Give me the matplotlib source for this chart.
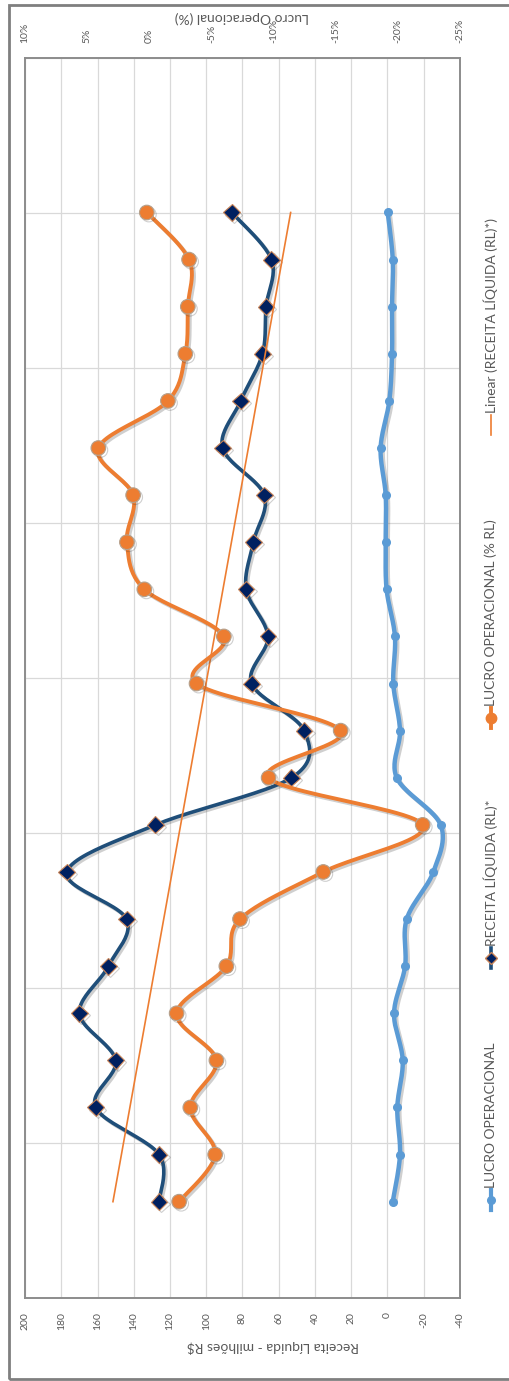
import matplotlib
matplotlib.use('Agg')
import matplotlib.pyplot as plt
import matplotlib.patheffects as pe
from matplotlib.lines import Line2D
from matplotlib.patches import Rectangle
import numpy as np

# values, first period -> last period
receita = [126, 126, 161, 150, 170, 154, 144, 177, 128, 53, 46,
           75, 66, 78, 74, 68, 91, 81, 69, 67, 64, 86]
lucro_pct = [-2.4, -5.3, -3.3, -5.4, -2.2, -6.2, -7.3, -14.0, -22.0, -9.6, -15.4,
             -3.8, -6.0, 0.4, 1.8, 1.3, 4.1, -1.5, -2.9, -3.1, -3.2, 0.2]
lucro_op = [-2.9, -6.9, -5.4, -8.4, -3.6, -9.7, -10.6, -25.3, -29.3, -5.1, -6.9,
            -3.2, -4.1, 0.5, 1.0, 1.0, 3.8, -1.0, -2.5, -2.5, -2.9, -0.1]

rl_ticks = [200, 180, 160, 140, 120, 100, 80, 60, 40, 20, 0, -20, -40]
pct_ticks = [10, 5, 0, -5, -10, -15, -20, -25]
pct_labels = ['10%', '5%', '0%', '-5%', '-10%', '-15%', '-20%', '-25%']

legend_labels = ['LUCRO OPERACIONAL', 'RECEITA LÍQUIDA (RL)*',
                 'LUCRO OPERACIONAL (% RL)', 'Linear (RECEITA LÍQUIDA (RL)*)']

C_LO = '#5B9BD5'
C_RL = '#1F4E79'
C_PCT = '#ED7D31'
C_TXT = '#595959'

plt.rcParams['font.family'] = ['Lato', 'DejaVu Sans']
plt.rcParams['axes.unicode_minus'] = False

W, H = 510, 1381


def fx(x):
    return x / W


def fy(y):
    return 1 - y / H


def smooth(t, v, n=24):
    """Catmull-Rom curve through the points, like Excel smoothed lines."""
    t = np.asarray(t, float)
    v = np.asarray(v, float)
    P = np.column_stack([t, v])
    P = np.vstack([P[0], P, P[-1]])
    out = []
    s = np.linspace(0, 1, n, endpoint=False)[:, None]
    for i in range(1, len(P) - 2):
        p0, p1, p2, p3 = P[i - 1], P[i], P[i + 1], P[i + 2]
        c = 0.5 * ((2 * p1) + (-p0 + p2) * s + (2 * p0 - 5 * p1 + 4 * p2 - p3) * s ** 2
                   + (-p0 + 3 * p1 - 3 * p2 + p3) * s ** 3)
        out.append(c)
    out.append(P[-2][None, :])
    out = np.vstack(out)
    return out[:, 0], out[:, 1]


fig = plt.figure(figsize=(W / 100, H / 100), dpi=100)

# outer chart frame
fig.patches.append(Rectangle((fx(9), fy(1379)), 1.2, fy(5) - fy(1379),
                             transform=fig.transFigure, fill=False,
                             edgecolor='#7f7f7f', lw=2.0))

ax = fig.add_axes([fx(25), fy(1298), fx(460) - fx(25), fy(58) - fy(1298)])
ax2 = ax.twiny()

idx = np.arange(len(receita))
ylo, yhi = -2.045, 24.28
ax.set_ylim(ylo, yhi)
ax.set_xlim(200, -40)
ax2.set_xlim(10, -25)

shadow = [pe.SimpleLineShadow(offset=(1.5, -1.5), alpha=0.25, shadow_color='#404040'), pe.Normal()]

# LUCRO OPERACIONAL
tx, vy = smooth(idx, lucro_op)
ax.plot(vy, tx, color=C_LO, lw=3.2, solid_capstyle='round', path_effects=shadow, zorder=3)
ax.plot(lucro_op, idx, 'o', color=C_LO, ms=5.5, mec=C_LO, zorder=4)

# RECEITA LÍQUIDA
tx, vy = smooth(idx, receita)
ax.plot(vy, tx, color=C_RL, lw=2.6, solid_capstyle='round', path_effects=shadow, zorder=3)
ax.plot(receita, idx, 'D', color='#002060', ms=8.5, mec='#C98457', mew=0.8, zorder=4,
        path_effects=shadow)

# linear trend of receita
k, b = np.polyfit(idx, receita, 1)
ax.plot(k * idx + b, idx, color=C_PCT, lw=1.2, zorder=5)

# LUCRO OPERACIONAL (% RL) on the secondary axis
tx, vy = smooth(idx, lucro_pct)
ax2.plot(vy, tx, color=C_PCT, lw=2.8, solid_capstyle='round', path_effects=shadow, zorder=3)
ax2.plot(lucro_pct, idx, 'o', color=C_PCT, ms=10.5, mec='#B4A08C', mew=0.8, zorder=4,
         path_effects=shadow)

# grid and axes styling
ax.set_xticks(rl_ticks)
ax.set_xticklabels([str(t) for t in rl_ticks], rotation=90, fontsize=7.5, color=C_TXT)
ax.set_yticks(np.linspace(ylo, yhi, 9))
ax.set_yticklabels([])
ax.grid(True, color='#D9D9D9', lw=0.9)
ax.set_axisbelow(True)
ax.tick_params(axis='x', length=0, pad=10)
ax.tick_params(axis='y', length=0)

ax2.set_xticks(pct_ticks)
ax2.set_xticklabels(pct_labels, rotation=90, fontsize=7.5, color=C_TXT)
ax2.tick_params(axis='x', length=0, pad=11)

for a in (ax, ax2):
    for sp in a.spines.values():
        sp.set_color('#8C8C8C')
        sp.set_linewidth(1.2)

fig.text(fx(273), fy(1347), 'Receita Líquida - milhões R$', rotation=180,
         ha='center', va='center', fontsize=10, color=C_TXT)
fig.text(fx(242), fy(17), 'Lucro Operacional (%)', rotation=180,
         ha='center', va='center', fontsize=10, color=C_TXT)

# legend drawn by hand, rotated with the chart
leg_x = 491
leg_y = [1200, 958, 718, 425]
leg_style = [
    dict(color=C_LO, lw=3.0, marker='o', ms=5.5, mfc=C_LO, mec=C_LO, markevery=[1]),
    dict(color=C_RL, lw=2.6, marker='D', ms=6, mfc='#002060', mec='#C98457', markevery=[1]),
    dict(color=C_PCT, lw=2.8, marker='o', ms=7.5, mfc=C_PCT, mec=C_PCT, markevery=[1]),
    dict(color=C_PCT, lw=1.2),
]
for y, lab, st in zip(leg_y, legend_labels, leg_style):
    line = Line2D([fx(leg_x)] * 3, [fy(y + 10), fy(y), fy(y - 10)],
                  transform=fig.transFigure, **st)
    fig.lines.append(line)
    fig.text(fx(leg_x), fy(y - 12), lab, rotation=90, ha='center', va='bottom',
             fontsize=10, color=C_TXT)

fig.savefig('out.png', dpi=100)
